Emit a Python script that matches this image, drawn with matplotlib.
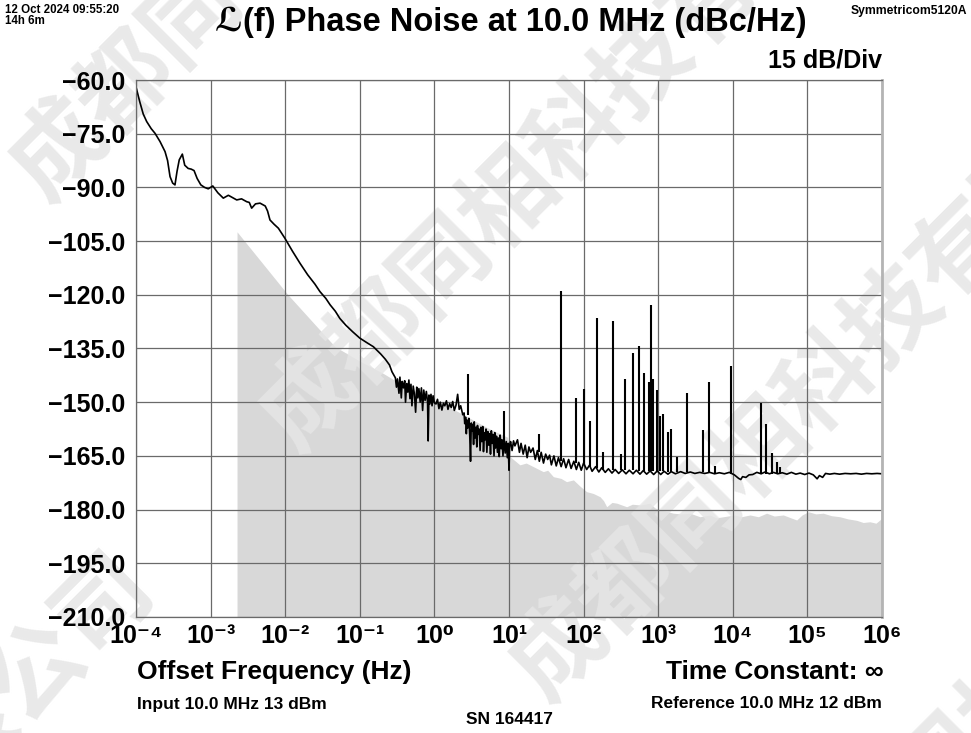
import numpy as np
import matplotlib
matplotlib.use('Agg')
import matplotlib.pyplot as plt

plt.rcParams['font.family'] = ['Liberation Sans', 'DejaVu Sans']

# ---- data (offset frequency Hz, dBc/Hz) ----
trend_low = [
    (1.0e-4, -61.9), (1.12e-4, -66.0), (1.25e-4, -69.5), (1.39e-4, -71.6), (1.6e-4, -73.6),
    (1.8e-4, -74.9), (2.1e-4, -77.2), (2.45e-4, -80.0), (2.65e-4, -82.5), (2.86e-4, -87.0),
    (3.1e-4, -88.8), (3.33e-4, -89.3), (3.55e-4, -85.5), (3.8e-4, -82.3), (4.18e-4, -80.7),
    (4.5e-4, -83.8), (5.0e-4, -84.7), (5.5e-4, -84.9), (6.0e-4, -85.3), (6.6e-4, -87.5),
    (7.4e-4, -89.3), (8.3e-4, -90.0), (9.3e-4, -90.4), (1.07e-3, -89.6), (1.25e-3, -91.5),
    (1.48e-3, -93.0), (1.73e-3, -92.2), (1.95e-3, -92.8), (2.24e-3, -93.5), (2.6e-3, -93.2),
    (3.05e-3, -94.0), (3.3e-3, -94.2), (3.55e-3, -95.8), (4.0e-3, -94.6), (4.6e-3, -94.4),
    (5.4e-3, -95.2), (5.8e-3, -96.6), (6.25e-3, -99.1), (7.1e-3, -100.3), (8.1e-3, -101.4),
    (9.9e-3, -104.2), (1.25e-2, -107.8), (1.58e-2, -111.2), (2.0e-2, -114.4), (2.5e-2, -117.0),
    (2.92e-2, -119.1), (3.5e-2, -121.0), (4.0e-2, -122.8), (4.7e-2, -124.6), (5.4e-2, -126.6),
    (6.5e-2, -128.5), (8.0e-2, -130.3), (0.1, -132.1), (0.125, -133.4), (0.152, -134.5),
    (0.19, -136.5), (0.22, -138.0), (0.25, -139.6), (0.27, -141.5),
]
noise_sub1 = [
    (0.30, -143.2), (0.31, -145.8), (0.32, -143.5), (0.335, -147.5), (0.345, -143.0),
    (0.36, -148.8), (0.37, -144.2), (0.385, -146.0), (0.40, -144.0), (0.41, -150.0),
    (0.425, -144.8), (0.44, -147.2), (0.455, -143.8), (0.47, -149.0), (0.485, -145.0),
    (0.50, -151.0), (0.52, -145.5), (0.54, -147.8), (0.56, -152.8), (0.58, -145.8),
    (0.60, -148.8), (0.62, -146.2), (0.645, -150.0), (0.67, -146.0), (0.695, -152.3),
    (0.72, -146.6), (0.75, -149.5), (0.78, -147.0), (0.81, -150.0), (0.825, -160.8),
    (0.845, -148.0), (0.87, -150.5), (0.90, -147.8), (0.93, -151.0), (0.96, -148.2),
    (1.0, -150.2),
]
noise_1to2 = [
    (1.05, -150.5), (1.1, -149.2), (1.15, -151.8), (1.2, -150.0), (1.26, -152.2),
    (1.32, -150.3), (1.38, -151.0), (1.45, -149.6), (1.52, -152.0), (1.6, -150.4),
    (1.68, -151.5), (1.76, -149.8), (1.85, -152.3), (1.95, -150.8), (2.05, -147.8),
    (2.15, -152.0), (2.25, -151.0), (2.4, -153.5),
]
noise_2to10 = [
    (2.5, -153.0), (2.55, -156.0), (2.62, -154.2), (2.68, -158.8), (2.74, -155.0),
    (2.8, -157.2), (2.9, -154.5), (2.98, -159.5), (3.05, -166.5), (3.12, -155.8),
    (3.2, -158.0), (3.27, -156.2), (3.35, -161.8), (3.42, -155.5), (3.5, -160.0),
    (3.6, -157.0), (3.7, -162.5), (3.78, -156.5), (3.88, -159.0), (3.98, -157.5),
    (4.1, -163.5), (4.2, -157.0), (4.32, -161.0), (4.45, -156.8), (4.55, -163.8),
    (4.68, -158.5), (4.8, -160.5), (4.92, -157.5), (5.05, -164.0), (5.2, -158.2),
    (5.35, -162.0), (5.5, -158.8), (5.65, -164.5), (5.8, -158.0), (5.95, -161.5),
    (6.1, -159.0), (6.3, -165.0), (6.45, -158.5), (6.6, -162.8), (6.8, -159.5),
    (7.0, -164.0), (7.2, -160.0), (7.4, -165.2), (7.6, -159.2), (7.85, -163.0),
    (8.05, -160.5), (8.3, -165.0), (8.6, -160.2), (8.9, -164.2), (9.2, -161.0),
    (9.5, -165.5), (9.75, -161.5), (10.0, -169.0), (10.2, -162.0), (10.5, -161.0),
]
floor_high = [
    (11, -163.5), (11.5, -160.8), (12, -162.2), (13, -160.5), (13.8, -164.0), (14.5, -161.5),
    (15.5, -164.5), (16.5, -162.0), (17.5, -165.5), (18.5, -162.5), (19.5, -164.0),
    (21, -162.8), (22.5, -166.0), (24, -163.5), (25.5, -166.5), (27, -164.0), (29, -167.0),
    (31, -164.5), (33, -166.0), (35, -164.8), (37, -167.5), (40, -165.0), (43, -167.8),
    (46, -165.5), (50, -168.0), (54, -165.8), (58, -168.3), (63, -166.0), (68, -168.5),
    (74, -166.5), (80, -168.8), (86, -166.8), (93, -169.0), (100, -167.0), (110, -168.8),
    (120, -167.6), (130, -169.3), (145, -168.0), (160, -169.5), (175, -168.3), (195, -169.6),
    (215, -168.6), (240, -169.8), (265, -168.8), (295, -169.9), (330, -168.9), (370, -170.0),
    (410, -169.0), (460, -170.0), (510, -169.0), (570, -170.1), (630, -169.1), (700, -170.1),
    (780, -169.2), (870, -170.2), (970, -169.2), (1080, -170.2), (1200, -169.3), (1350, -170.1),
    (1500, -169.4), (1700, -170.0), (2000, -169.4), (2300, -169.9), (2700, -169.5), (3100, -169.9),
    (3600, -169.6), (4200, -169.9), (4900, -169.6), (5700, -170.0), (6600, -169.7), (7700, -170.0),
    (9000, -169.6), (10500, -170.3), (12000, -171.3), (12800, -171.6), (13500, -170.8),
    (15000, -171.0), (16500, -170.3), (18500, -170.2), (21000, -169.6), (24000, -170.0),
    (27000, -169.5), (31000, -170.0), (35000, -169.6), (40000, -170.0), (46000, -169.7),
    (53000, -170.1), (61000, -169.6), (70000, -170.1), (80000, -169.8), (92000, -170.2),
    (105000, -169.8), (120000, -170.3), (135000, -171.4), (145000, -170.5), (160000, -171.0),
    (175000, -169.9), (200000, -170.1), (230000, -169.9), (270000, -170.1), (320000, -169.9),
    (380000, -170.0), (450000, -169.9), (530000, -170.1), (620000, -169.9), (730000, -170.0),
    (860000, -169.9), (1000000, -170.0),
]

# spurs: frequency, peak level, level at the foot
spur_freq = [2.85, 8.5, 25, 50, 78, 100, 122, 150, 180, 250, 314, 355, 460, 560, 650, 750,
             800, 860, 950, 1050, 1170, 1370, 1500, 1800, 2450, 4000, 4750, 5800, 9500,
             24000, 28000, 34000, 39000, 43000]
spur_top = [-142.2, -152.5, -159.0, -119.0, -148.9, -146.4, -155.2, -126.4, -163.8, -127.3,
            -164.5, -143.5, -136.3, -134.2, -141.8, -144.4, -122.8, -143.5, -146.6, -153.8,
            -153.4, -158.4, -157.5, -165.4, -147.5, -157.8, -144.3, -167.8, -139.9, -150.3,
            -156.1, -164.3, -166.6, -168.0]
spur_foot = [-153.5, -161.0, -164.0, -166.5, -167.0, -167.5, -168.0, -168.5, -168.8, -169.0,
             -169.0, -169.0, -169.0, -169.1, -169.2, -169.2, -169.2, -169.2, -169.3, -169.3,
             -169.3, -169.4, -169.4, -169.5, -169.5, -169.6, -169.7, -169.7, -170.0, -170.0,
             -170.0, -170.0, -170.0, -170.0]

# instrument noise floor (grey area)
floor_freq = [2.26e-3, 1.09e-2, 4.66e-2, 0.1, 0.2, 0.3, 0.5, 0.7, 1.0, 1.5, 2.0, 3.0, 5.0, 7.0,
              9.6, 10.3, 14, 17, 21.2, 28.8, 33, 39.3, 50, 59, 73, 90, 110, 135, 166, 185, 204,
              240, 278, 378, 450, 570, 776, 900, 1057, 1300, 1585, 2000, 2670, 3630, 4940,
              6000, 7460, 10700, 13000, 17000, 22000, 28400, 36000, 47500, 60000, 71900, 85000,
              1.03e5, 1.3e5, 1.63e5, 2.1e5, 2.73e5, 3.5e5, 4.58e5, 5.6e5, 6.9e5, 8.3e5, 1e6]
floor_level = [-102.4, -120.0, -134.5, -138.5, -141.8, -144.0, -146.5, -147.8, -149.5, -151.2,
               -152.5, -154.5, -157.0, -158.5, -159.8, -165.2, -167.5, -167.0, -168.0, -169.4,
               -169.0, -170.8, -171.3, -172.2, -171.7, -173.5, -175.0, -175.5, -176.4, -177.5,
               -179.2, -178.0, -178.2, -179.2, -178.5, -178.7, -178.2, -179.5, -180.1, -180.5,
               -181.0, -181.2, -181.0, -182.0, -181.5, -182.3, -182.0, -181.5, -182.0, -181.5,
               -182.0, -181.0, -181.8, -181.5, -182.3, -182.9, -181.5, -180.6, -181.2, -181.0,
               -181.7, -182.0, -182.6, -183.0, -183.6, -183.4, -183.8, -182.4]

y_ticks = [-60, -75, -90, -105, -120, -135, -150, -165, -180, -195, -210]
x_ticks = [1e-4, 1e-3, 1e-2, 1e-1, 1e0, 1e1, 1e2, 1e3, 1e4, 1e5, 1e6]
x_labels = ['10⁻⁴', '10⁻³', '10⁻²', '10⁻¹', '10⁰', '10¹', '10²', '10³', '10⁴', '10⁵', '10⁶']

trace = trend_low + noise_sub1 + noise_1to2 + noise_2to10 + floor_high
trace_f = np.array([p[0] for p in trace])
trace_db = np.array([p[1] for p in trace])

W, H = 971, 733


def fx(x):
    return x / W


def fy(y):
    return 1 - y / H


fig = plt.figure(figsize=(W / 100, H / 100), dpi=100)
ax = fig.add_axes([fx(136), fy(617), 746 / W, 537 / H])

ax.fill_between(floor_freq, floor_level, -210, color='#d8d8d8', lw=0, zorder=0.3)
ax.plot(trace_f, trace_db, color='black', lw=1.2, zorder=2)
ax.vlines(spur_freq, spur_foot, spur_top, color='black', lw=1.5, zorder=2)

# watermark, tiled along 45 degree lines
wm = '成都同相科技有限公司'
em = 95
d = np.sqrt(0.5)
for k in range(0, 4):
    cx0, cy0 = 60 + 250 * k, 150 + 250 * k
    for rep in range(-1, 2):
        cx = cx0 + rep * 12 * em * d
        cy = cy0 - rep * 12 * em * d
        sx, sy = cx - 0.5 * em * d, cy + 0.5 * em * d
        ax.text(fx(sx), fy(sy), wm, transform=fig.transFigure, rotation=45,
                rotation_mode='anchor', ha='left', va='center', fontsize=68,
                family='Noto Sans CJK SC', weight='bold', color='#e6e6e6', alpha=0.85,
                zorder=0.4, clip_on=False)

ax.set_xscale('log')
ax.set_xlim(1e-4, 1e6)
ax.set_ylim(-210, -60)
ax.set_xticks(x_ticks)
ax.set_xticklabels(x_labels, fontsize=18, weight='bold')
ax.xaxis.set_minor_locator(matplotlib.ticker.NullLocator())
ax.set_yticks(y_ticks)
ax.set_yticklabels([f'\u2212{abs(v):.1f}' for v in y_ticks], fontsize=18, weight='bold')
ax.tick_params(length=0)
ax.tick_params(axis='y', pad=8)
ax.tick_params(axis='x', pad=5)
ax.set_axisbelow(True)
ax.grid(True, color='#6a6a6a', lw=0.9)
for s in ['left', 'bottom', 'top']:
    ax.spines[s].set_color('#6a6a6a')
    ax.spines[s].set_linewidth(0.9)
ax.spines['right'].set_color('#b4b4b4')
ax.spines['right'].set_linewidth(2)

fig.text(fx(5), fy(10), '12 Oct 2024 09:55:20', fontsize=8.3, weight='bold', va='center')
fig.text(fx(5), fy(21), '14h 6m', fontsize=8.3, weight='bold', va='center')
fig.text(fx(511), fy(22), 'ℒ(f) Phase Noise at 10.0 MHz (dBc/Hz)', fontsize=23.5,
         weight='bold', ha='center', va='center')
fig.text(fx(967), fy(11), 'Symmetricom5120A', fontsize=8.7, weight='bold', ha='right',
         va='center')
fig.text(fx(882), fy(60), '15 dB/Div', fontsize=18, weight='bold', ha='right', va='center')
fig.text(fx(137), fy(672), 'Offset Frequency (Hz)', fontsize=19, weight='bold', va='center')
fig.text(fx(884), fy(672), 'Time Constant: ∞', fontsize=19, weight='bold', ha='right',
         va='center')
fig.text(fx(137), fy(704), 'Input 10.0 MHz 13 dBm', fontsize=12.5, weight='bold', va='center')
fig.text(fx(882), fy(704), 'Reference 10.0 MHz 12 dBm', fontsize=12.5, weight='bold',
         ha='right', va='center')
fig.text(fx(509), fy(720), 'SN 164417', fontsize=12.5, weight='bold', ha='center', va='center')

fig.savefig('out.png', dpi=100)
